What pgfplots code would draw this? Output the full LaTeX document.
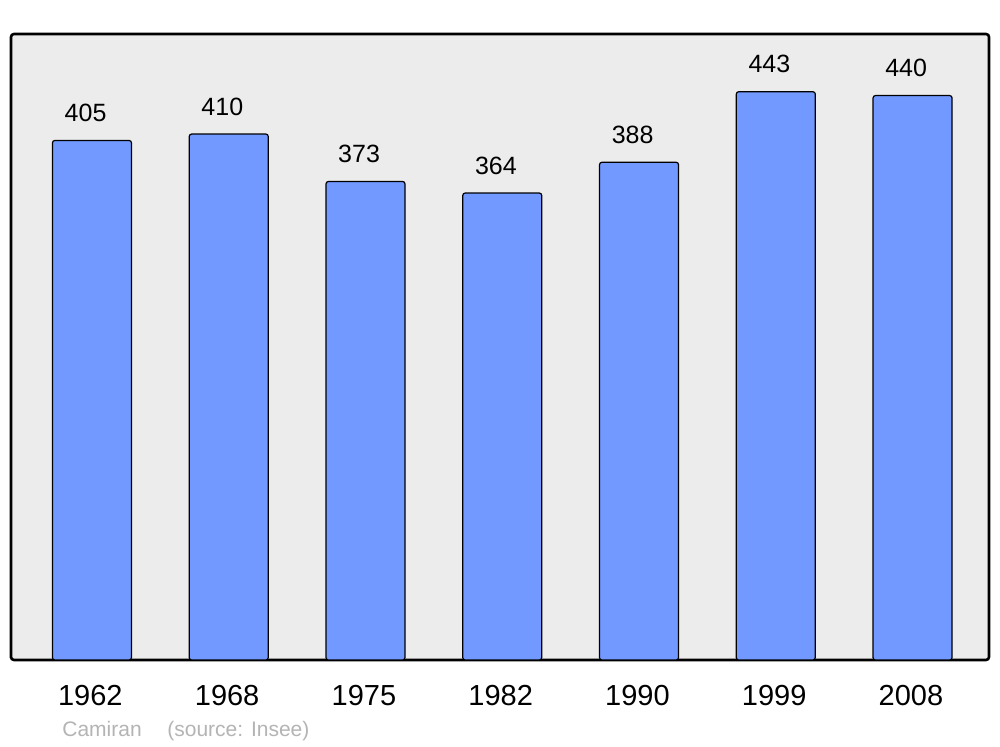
\documentclass[border=0pt]{standalone}
\usepackage{pgfplots}
\pgfplotsset{compat=1.18}
\usepackage{fontspec}
\setmainfont{Liberation Sans}
\definecolor{barblue}{HTML}{7199FF}
\definecolor{bggray}{HTML}{ECECEC}
\definecolor{srcgray}{HTML}{B4B4B4}
\begin{document}
\begin{tikzpicture}[x=1pt,y=1pt]
\path[fill=white] (0,0) rectangle (500,373.5);
\begin{axis}[
  at={(5.5pt,43.5pt)}, anchor=south west,
  scale only axis, width=489pt, height=313pt,
  xmin=-0.592, xmax=6.559, ymin=0, ymax=488,
  axis background/.style={fill=bggray},
  axis line style={line width=1.3pt, rounded corners=1.5pt},
  ytick=\empty,
  xtick=data,
  xticklabels={1962,1968,1975,1982,1990,1999,2008},
  major tick length=0pt,
  xticklabel style={font=\fontsize{14.5}{16}\selectfont, yshift=-9.2pt, xshift=-0.8pt},
  /pgf/number format/assume math mode=true,
  ybar, bar width=39.5pt, bar shift=0pt,
  nodes near coords,
  every node near coord/.append style={font=\fontsize{12.5}{14}\selectfont, yshift=5.7pt, xshift=-3.2pt},
  clip=false,
]
\addplot[fill=barblue, draw=black, line width=0.6pt, rounded corners=1.2pt] coordinates
  {(0,405) (1,410) (2,373) (3,364) (4,388) (5,443) (6,440)};
\end{axis}
\node[anchor=base west, inner sep=0pt, text=srcgray, font=\fontsize{10.5}{12}\selectfont] at (31,5) {Camiran};
\node[anchor=base west, inner sep=0pt, text=srcgray, font=\fontsize{10.5}{12}\selectfont] at (83.5,5) {(source: Insee)};
\end{tikzpicture}
\end{document}
